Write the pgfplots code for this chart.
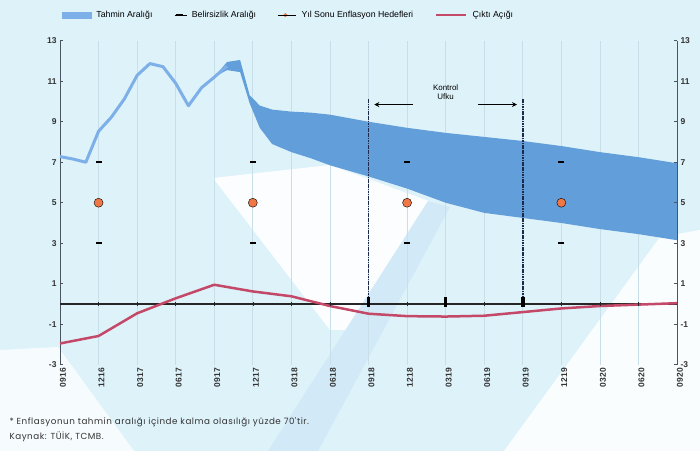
\documentclass[border=0pt]{standalone}
\usepackage{pgfplots}
\pgfplotsset{compat=1.18}
\usetikzlibrary{arrows.meta}
\usepackage{fontspec}
\setmainfont{Liberation Sans}
\newfontfamily\gothic[LetterSpace=6]{Poppins}
\definecolor{bgcyan}{RGB}{222,242,250}
\definecolor{stripe}{RGB}{210,234,247}
\definecolor{bandblue}{RGB}{98,158,218}
\definecolor{histblue}{RGB}{125,175,232}
\definecolor{gapred}{RGB}{196,72,104}
\definecolor{dotorange}{RGB}{240,120,70}
\definecolor{axgray}{RGB}{75,85,95}
\definecolor{gridc}{RGB}{200,222,232}
\definecolor{navy}{RGB}{30,40,75}
\begin{document}
\begin{tikzpicture}[x=1bp,y=1bp]
% background (pixel coordinates, y flipped)
\fill[bgcyan] (0,0) rectangle (700,451);
\fill[white,opacity=0.9] (213,273) -- (330,286) -- (440,246) -- (372,121) -- (330,121) -- cycle;
\fill[stripe] (268,0) -- (318,0) -- (450,244) -- (428,250) -- cycle;
\fill[white,opacity=0.75] (0,101) -- (58,104) -- (134,0) -- (0,0) -- cycle;
\fill[white,opacity=0.85] (700,221) -- (660,214) -- (504,0) -- (700,0) -- cycle;
\begin{axis}[
  at={(60bp,86.25bp)}, anchor=south west,
  scale only axis, width=617bp, height=324bp,
  xmin=0, xmax=16, ymin=-3, ymax=13,
  axis y line*=left, axis x line*=bottom,
  x axis line style={draw=none},
  y axis line style={draw=axgray, line width=1bp},
  xtick={0,...,16},
  xticklabels={0916,1216,0317,0617,0917,1217,0318,0618,0918,1218,0319,0619,0919,1219,0320,0620,0920},
  x tick label style={rotate=90, anchor=east, yshift=-3bp, font=\bfseries\fontsize{8.5}{9}\selectfont, text=black!80},
  xtick style={draw=none},
  ytick={-3,-1,...,13},
  y tick label style={font=\bfseries\fontsize{8.5}{10}\selectfont, text=black!80},
  ytick style={draw=axgray, line width=0.8bp},
  major tick length=3bp,
  /pgf/number format/assume math mode=true,
  xmajorgrids, major x grid style={draw=gridc, line width=0.7bp},
  legend style={draw=none, fill=none, inner sep=0pt, font=\fontsize{8.8}{10}\selectfont,
    at={(0.003,1.079)}, anchor=west, legend columns=4,
    /tikz/every odd column/.append style={column sep=3bp},
    /tikz/every even column/.append style={column sep=20bp}},
  clip=false,
]
\addlegendimage{legend image code/.code={\fill[histblue] (0bp,-3bp) rectangle (29bp,3bp);}}
\addlegendentry{Tahmin Aralığı}
\addlegendimage{legend image code/.code={\draw[black,line width=2.2bp] (1bp,0bp) -- (8bp,0bp); \path (0bp,0bp) -- (12bp,0bp);}}
\addlegendentry{Belirsizlik Aralığı}
\addlegendimage{legend image code/.code={\fill[dotorange] (7bp,0bp) circle (1.8bp); \path (0bp,0bp) -- (18bp,0bp);}}
\addlegendentry{Yıl Sonu Enflasyon Hedefleri}
\addlegendimage{legend image code/.code={\draw[gapred,line width=2.5bp] (0bp,0bp) -- (30bp,0bp);}}
\addlegendentry{Çıktı Açığı}

% forecast band (upper edge forward, lower edge back)
\addplot[fill=bandblue, draw=none, forget plot] coordinates {
(4,11.2)(4.33,11.95)(4.67,12.05)(4.92,10.3)(5.18,9.8)(5.5,9.6)(6,9.5)(6.5,9.45)(7,9.35)(8,9.0)(9,8.7)(10,8.45)(11,8.25)(12,8.05)(13,7.8)(14,7.5)(15,7.25)(16,6.95)
(16,3.15)(15,3.45)(14,3.7)(13,4.0)(12,4.25)(11,4.5)(10,5.0)(9,5.7)(8,6.3)(7,6.85)(6.5,7.2)(6,7.5)(5.5,7.9)(5.18,8.7)(4.92,9.9)(4.67,11.45)(4.33,11.55)(4,11.2)} -- cycle;

% inflation history
\addplot[histblue, line width=3bp, line join=round, forget plot] coordinates {
(0,7.28)(0.33,7.16)(0.67,7.0)(1,8.53)(1.33,9.22)(1.67,10.13)(2,11.29)(2.33,11.87)(2.67,11.72)(3,10.9)(3.33,9.79)(3.67,10.68)(4,11.2)(4.33,11.75)};

% zero line
\addplot[black!85, line width=1.2bp, forget plot] coordinates {(0,0)(16,0)};
\addplot[only marks, mark=|, mark size=2bp, mark options={black!85, line width=0.6bp}, forget plot] coordinates {
(1,0)(2,0)(3,0)(4,0)(5,0)(6,0)(7,0)(9,0)(11,0)(13,0)(14,0)(15,0)};

% control horizon
\addplot[navy, line width=1.6bp, dash pattern=on 1.2bp off 0.5bp, forget plot] coordinates {(8,0)(8,10.1)};
\addplot[navy, line width=1.6bp, dash pattern=on 1.2bp off 0.5bp, forget plot] coordinates {(12,0)(12,10.1)};
\addplot[only marks, mark=|, mark size=5bp, mark options={black, line width=3.5bp}, forget plot] coordinates {(8,0.1)(10,0.1)(12,0.1)};
\draw[black, line width=1.5bp, -{Stealth[length=5bp,width=5bp]}] (axis cs:9.15,9.85) -- (axis cs:8.15,9.85);
\draw[black, line width=1.5bp, -{Stealth[length=5bp,width=5bp]}] (axis cs:10.85,9.85) -- (axis cs:11.85,9.85);
\node[font=\fontsize{8}{9}\selectfont, align=center] at (axis cs:10,10.45) {Kontrol\\Ufku};

% output gap
\addplot[gapred, line width=2.5bp, line join=round, forget plot] coordinates {
(0,-1.95)(1,-1.58)(2,-0.46)(3,0.28)(4,0.95)(5,0.62)(6,0.38)(7,-0.1)(8,-0.48)(9,-0.6)(10,-0.62)(11,-0.58)(12,-0.4)(13,-0.22)(14,-0.1)(15,-0.03)(16,0.04)};

% uncertainty range
\addplot[only marks, mark=-, mark size=3bp, mark options={black, line width=2.2bp}, forget plot] coordinates {
(1,7)(1,3)(5,7)(5,3)(9,7)(9,3)(13,7)(13,3)};
% year-end targets
\addplot[only marks, mark=*, mark size=4.5bp, mark options={fill=dotorange, draw=none}, forget plot] coordinates {
(1,5)(5,5)(9,5)(13,5)};
\end{axis}
\begin{axis}[
  at={(60bp,86.25bp)}, anchor=south west,
  scale only axis, width=617bp, height=324bp,
  xmin=0, xmax=16, ymin=-3, ymax=13,
  axis y line*=right, hide x axis,
  y axis line style={draw=axgray, line width=1bp},
  ytick={-3,-1,...,13},
  y tick label style={font=\bfseries\fontsize{8.5}{10}\selectfont, text=black!80},
  ytick style={draw=axgray, line width=0.8bp},
  major tick length=3bp,
  /pgf/number format/assume math mode=true,
]
\addplot[draw=none] coordinates {(0,0)};
\end{axis}
\node[anchor=west, font=\gothic\fontsize{8.8}{9}\selectfont, text=black!80] at (6,29) {* Enflasyonun tahmin aralığı içinde kalma olasılığı yüzde 70'tir.};
\node[anchor=west, font=\gothic\fontsize{8.8}{9}\selectfont, text=black!80] at (6,14) {Kaynak: TÜİK, TCMB.};
\end{tikzpicture}
\end{document}
